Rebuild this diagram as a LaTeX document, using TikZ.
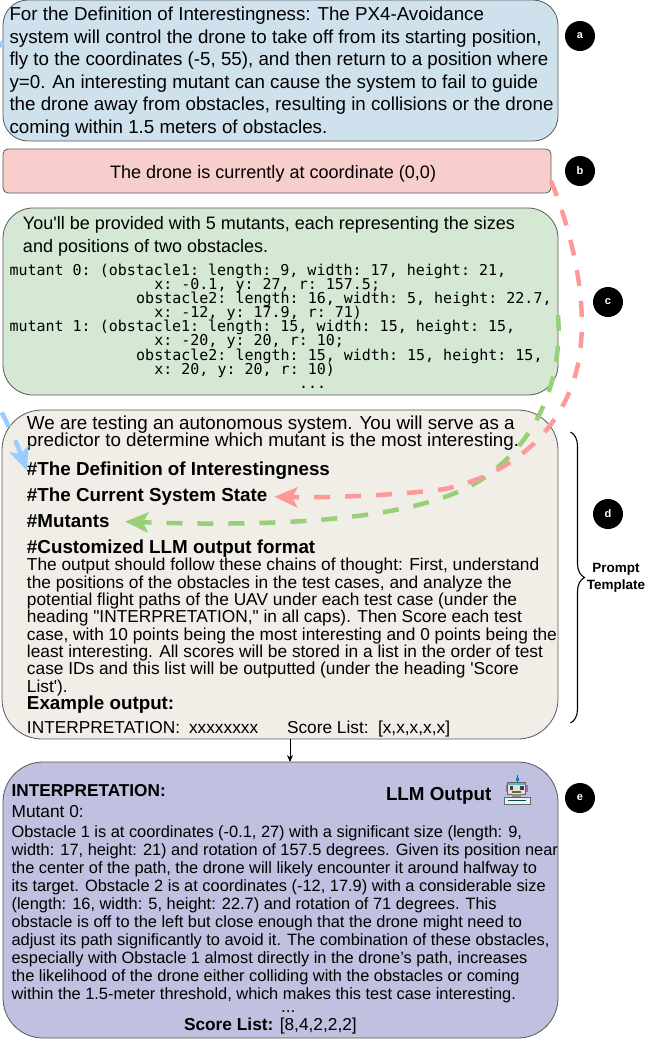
\documentclass[tikz,border=0pt]{standalone}
\usepackage{fontspec}
\setmainfont{Liberation Sans}
\setmonofont{DejaVu Sans Mono}
\usetikzlibrary{arrows.meta,decorations.pathreplacing}

\definecolor{fillblue}{RGB}{206,225,236}
\definecolor{fillred}{RGB}{248,206,204}
\definecolor{fillgreen}{RGB}{213,232,212}
\definecolor{fillsand}{RGB}{241,238,232}
\definecolor{fillviolet}{RGB}{192,192,224}
\definecolor{linkblue}{RGB}{153,204,255}
\definecolor{linkred}{RGB}{255,153,153}
\definecolor{linkgreen}{RGB}{151,208,119}

\begin{document}
\begin{tikzpicture}[x=1pt, y=-1pt,
  every node/.style = {inner sep=0pt, outer sep=0pt},
  panel/.style = {draw=black!65, line width=0.8pt, shape=rectangle, anchor=north west},
  body/.style = {anchor=base west, align=left, font=\fontsize{18.75}{22.5}\selectfont},
  tight/.style = {anchor=base west, align=left, font=\fontsize{17.3}{17.3}\selectfont},
  wide/.style = {anchor=base west, align=left, font=\fontsize{18.8}{17}\selectfont},
  head/.style = {anchor=base west, font=\fontsize{18.8}{20}\selectfont\bfseries},
  mono/.style = {anchor=base west, align=left, font=\fontsize{15}{14.17}\selectfont\ttfamily},
  letter/.style = {shape=circle, fill=black, minimum size=30pt, text=white, font=\fontsize{11}{11}\selectfont\bfseries},
  link/.style = {line width=4.5pt, dash pattern=on 16pt off 15pt, -{Stealth[length=23pt,width=20pt,inset=5pt]}}]

  \useasboundingbox (0,0) rectangle (646,1042);
  \lineskiplimit=-20pt

  \node [panel, rounded corners=25pt, fill=fillblue, minimum width=555pt, minimum height=141pt] (defn) at (3,0) {};
  \node [panel, rounded corners=5pt, fill=fillred, minimum width=548pt, minimum height=44pt] (state) at (3,149) {};
  \node [panel, rounded corners=30pt, fill=fillgreen, minimum width=555pt, minimum height=187pt] (mutants) at (3,208) {};
  \node [panel, rounded corners=40pt, fill=fillsand, minimum width=556pt, minimum height=329pt] (prompt) at (2,410) {};
  \node [panel, rounded corners=40pt, fill=fillviolet, minimum width=555pt, minimum height=276pt] (output) at (3,762) {};

  \node [body] (defntext) at (9.5,133) {For the Definition of Interestingness: The PX4-Avoidance\\
    system will control the drone to take off from its starting position,\\
    fly to the coordinates (-5, 55), and then return to a position where\\
    y=0. An interesting mutant can cause the system to fail to guide\\
    the drone away from obstacles, resulting in collisions or the drone\\
    coming within 1.5 meters of obstacles.};
  \node [body, font=\fontsize{18.05}{22.5}\selectfont] (statetext) at (110,178) {The drone is currently at coordinate (0,0)};
  \node [body, font=\fontsize{18}{22.7}\selectfont] (mutantstext) at (23,252.5) {You\textquotesingle ll be provided with 5 mutants, each representing the sizes\\
    and positions of two obstacles.};
  \node [mono] (mutantscode) at (9.5,388.4) {mutant 0: (obstacle1: length: 9, width: 17, height: 21,\\
    \hspace*{144.8pt}x: -0.1, y: 27, r: 157.5;\\
    \hspace*{126.7pt}obstacle2: length: 16, width: 5, height: 22.7,\\
    \hspace*{144.8pt}x: -12, y: 17.9, r: 71)\\
    mutant 1: (obstacle1: length: 15, width: 15, height: 15,\\
    \hspace*{144.8pt}x: -20, y: 20, r: 10;\\
    \hspace*{126.7pt}obstacle2: length: 15, width: 15, height: 15,\\
    \hspace*{144.8pt}x: 20, y: 20, r: 10)\\
    \hspace*{289.6pt}...};

  \node [wide] (intro) at (27,446) {We are testing an autonomous system. You will serve as a\\
    predictor to determine which mutant is the most interesting.};
  \node [head] (headdefn) at (27,475.5) {\#The Definition of Interestingness};
  \node [head] (headstate) at (27,501.5) {\#The Current System State};
  \node [head] (headmut) at (27,527.5) {\#Mutants};
  \node [head] (headfmt) at (27,553.5) {\#Customized LLM output format};
  \node [tight] (fmttext) at (27,692) {The output should follow these chains of thought: First, understand\\
    the positions of the obstacles in the test cases, and analyze the\\
    potential flight paths of the UAV under each test case (under the\\
    heading \textquotedbl INTERPRETATION,\textquotedbl{} in all caps). Then Score each test\\
    case, with 10 points being the most interesting and 0 points being the\\
    least interesting. All scores will be stored in a list in the order of test\\
    case IDs and this list will be outputted (under the heading \textquotesingle Score\\
    List\textquotesingle ).};
  \node [head] (headex) at (27,709) {Example output:};
  \node [tight] (exinterp) at (27,733) {INTERPRETATION:};
  \node [tight] (exx) at (189,733) {xxxxxxxx};
  \node [tight] (exscore) at (287,733) {Score List:};
  \node [tight] (exlist) at (378,733) {[x,x,x,x,x]};

  \node [head, font=\fontsize{17.2}{20}\selectfont\bfseries] (outhead) at (11.6,796) {INTERPRETATION:};
  \node [head] (outlabel) at (386,800) {LLM Output};
  \node [tight] (outmutant) at (11.6,817) {Mutant 0:};
  \node [body, font=\fontsize{16.38}{18}\selectfont] (outtext) at (11.6,999.7) {Obstacle 1 is at coordinates (-0.1, 27) with a significant size (length: 9,\\
    width: 17, height: 21) and rotation of 157.5 degrees. Given its position near\\
    the center of the path, the drone will likely encounter it around halfway to\\
    its target. Obstacle 2 is at coordinates (-12, 17.9) with a considerable size\\
    (length: 16, width: 5, height: 22.7) and rotation of 71 degrees. This\\
    obstacle is off to the left but close enough that the drone might need to\\
    adjust its path significantly to avoid it. The combination of these obstacles,\\
    especially with Obstacle 1 almost directly in the drone's path, increases\\
    the likelihood of the drone either colliding with the obstacles or coming\\
    within the 1.5-meter threshold, which makes this test case interesting.};
  \node [tight] (outdots) at (281,1012) {...};
  \node [tight] (outscore) at (184,1030) {\textbf{Score List:} [8,4,2,2,2]};

  % robot beside the output title
  \fill [black!70] (517,775) rectangle (517.8,783);
  \fill [cyan!60!blue] (515.5,778) rectangle (519.3,781);
  \fill [violet!60] (505.5,785) rectangle (527.5,792);
  \draw [black!60, fill=black!12, line width=0.7pt] (507.5,782) rectangle (525.5,794);
  \fill [teal!60] (508,782.5) rectangle (525,785);
  \fill [black!75] (509.5,786) rectangle (513,790);
  \fill [black!75] (520,786) rectangle (523.5,790);
  \fill [olive!70!black] (512,791) rectangle (521,793);
  \fill [black!45] (512,794) rectangle (521,797);
  \draw [black!60, fill=black!6, line width=0.7pt] (504.5,797) rectangle (530,804);
  \fill [teal!60!black] (508,799.5) rectangle (526,801);

  \node [letter] (la) at (580,36) {a};
  \node [letter] (lb) at (580,171) {b};
  \node [letter] (lc) at (608,302) {c};
  \node [letter] (ld) at (608,514) {d};
  \node [letter] (le) at (580,798) {e};

  \coordinate (bracetop) at (570.5,432);
  \coordinate (bracebot) at (570.5,723);
  \draw [line width=1.1pt, decorate, decoration={brace, amplitude=14pt}] (bracetop) -- (bracebot);
  \node [align=center, font=\fontsize{13.5}{17}\selectfont\bfseries] (ptlabel) at (616,578) {Prompt\\Template};

  \draw [line width=0.9pt, -{Stealth[length=7pt,width=6pt]}] (prompt.south -| 290,0) -- (output.north -| 290,0);

  % prompt links
  \coordinate (bluefrom) at (3,42);
  \coordinate (redfrom) at (551,181);
  \coordinate (greenfrom) at (558,315);
  \draw [link, linkblue] (bluefrom) .. controls (-150,200) and (-10,370) .. (headdefn.west);
  \draw [link, linkgreen, shorten >=15.5pt] (greenfrom) .. controls (562,370) and (545,440) .. (476,483)
    .. controls (420,515) and (310,528) .. (headmut.east);
  \draw [link, linkred, shorten >=7pt] (redfrom) .. controls (575,240) and (585,300) .. (581,343)
    .. controls (576,410) and (530,470) .. (445,489)
    .. controls (400,495) and (330,498) .. (headstate.east);
\end{tikzpicture}
\end{document}
